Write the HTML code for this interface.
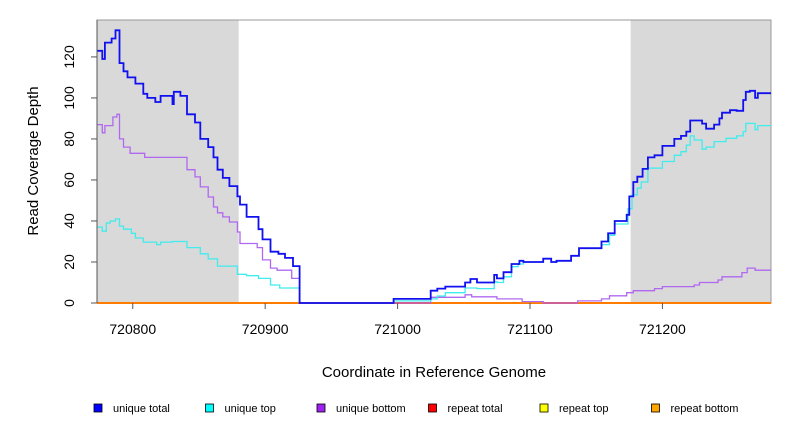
<!DOCTYPE html>
<html><head><meta charset="utf-8"><style>
body{margin:0;background:#fff;}
svg text{font-family:"Liberation Sans",sans-serif;fill:#000;}
</style></head><body>
<svg id="chart" width="792" height="432" viewBox="0 0 792 432">
<g id="plot"></g>
<text x="434" y="377" font-size="15" text-anchor="middle">Coordinate in Reference Genome</text>
<text x="38" y="161" font-size="15" text-anchor="middle" transform="rotate(-90 38 161)">Read Coverage Depth</text>
<g id="legend"></g>
</svg>
<script>
const xTicks=[720800,720900,721000,721100,721200];
const yTicks=[0,20,40,60,80,100,120];
const shadeRegions=[[720773,720880],[721176,721282]];
const seriesNames=["unique total","unique top","unique bottom","repeat total","repeat top","repeat bottom"];
const uniqueTotalX=[720773,720777,720779,720784,720787,720790,720793,720796,720802,720808,720811,720817,720821,720830,720831,720836,720841,720847,720851,720857,720861,720864,720868,720873,720879,720881,720886,720895,720898,720904,720910,720915,720921,720926,720997,721025,721030,721036,721051,721055,721060,721073,721075,721080,721086,721092,721095,721110,721116,721120,721131,721137,721154,721159,721164,721173,721175,721178,721181,721185,721189,721194,721200,721209,721214,721218,721221,721230,721233,721239,721243,721245,721251,721256,721261,721263,721266,721270,721272];
const uniqueTotalY=[123,119,127,129,133,117,113,110,107,102,100,98,101,97,103,101,92,88,80,76,71,65,61,57,52,48,42,36,31,25,24,22,18,0,2,6,7,8,10,11.7,10,13.7,12,15,19,20.6,20,21.6,20,20.6,23,26.7,30,34,40,43,52,59,61.6,65.4,71,72,76.6,80,81.5,83.6,89,87.5,85,87,90,92.8,94,93.7,99,103,103.5,100,102.3];
const uniqueTopX=[720773,720777,720780,720783,720787,720790,720793,720799,720802,720808,720818,720821,720830,720841,720851,720857,720864,720879,720886,720895,720904,720911,720926,720997,721025,721030,721036,721051,721060,721073,721075,721080,721086,721091,721095,721110,721116,721120,721131,721137,721154,721160,721164,721174,721177,721181,721184,721189,721200,721209,721214,721218,721221,721224,721230,721233,721239,721248,721256,721261,721263,721270,721272];
const uniqueTopY=[37,35,39,40,41,37.5,36,34,31.7,29.7,28.5,29.7,30,27,24,21.5,18,14,13.3,12,8.8,7.3,0,1,2,3.4,5,7.3,7,10.4,10,12.8,17.7,19,20,21.6,20,20.6,23,26.7,28.5,33,38.5,46,52.7,56,59,65.8,69,72,73.8,77,81.5,79.5,75,76,78.7,80.3,81.5,83.6,87.6,84.5,86.5];
const uniqueBottomX=[720773,720777,720779,720785,720788,720790,720793,720798,720809,720841,720847,720851,720857,720861,720864,720868,720873,720879,720881,720894,720898,720904,720909,720920,720926,721025,721051,721056,721075,721094,721110,721136,721154,721160,721173,721178,721194,721200,721224,721228,721242,721245,721260,721264,721270];
const uniqueBottomY=[87,83,86.5,90.7,92,80,76,73,71,65,61.5,56.6,51.7,46.8,44,42,39.5,34.6,29,27,21,17,16,12,0,2.8,4,3,2,0.7,0,1,2,3.5,5,6,7,8,8.8,10,11.2,12.8,14.8,17,16];
const repeatX=[720773];
const repeatY=[0];

const X0=720773,X1=721282,PL=97,PR=771,PT=20,PB=303,YMAX=138;
const sx=v=>PL+(v-X0)/(X1-X0)*(PR-PL);
const sy=v=>PB-v/YMAX*(PB-PT);
const NS="http://www.w3.org/2000/svg";
const plot=document.getElementById('plot');
function mk(tag,attrs,parent){const e=document.createElementNS(NS,tag);for(const k in attrs)e.setAttribute(k,attrs[k]);(parent||plot).appendChild(e);return e;}

shadeRegions.forEach(r=>{
  const e=mk('rect',{x:sx(r[0]),y:PT,width:sx(r[1])-sx(r[0]),height:PB-PT,fill:'#d9d9d9'});
  
  
});
const frame=mk('rect',{x:PL,y:PT,width:PR-PL,height:PB-PT,fill:'none',stroke:'#999','stroke-width':1});



function stepPath(xs,ys){
  let d='';
  for(let i=0;i<xs.length;i++){
    const xa=sx(xs[i]),xb=sx(i+1<xs.length?xs[i+1]:X1),y=sy(ys[i]);
    d+=(i===0?'M':'L')+xa.toFixed(1)+','+y.toFixed(1)+'L'+xb.toFixed(1)+','+y.toFixed(1);
  }
  return d;
}
const rt=mk('path',{d:stepPath(repeatX,repeatY),stroke:'#ff0000',fill:'none','stroke-width':2});


const rb=mk('path',{d:stepPath(repeatX,repeatY),stroke:'#ffa500',fill:'none','stroke-width':1.5});


const pb=mk('path',{d:stepPath(uniqueBottomX,uniqueBottomY),stroke:'#b068f0',fill:'none','stroke-width':1.3});


const pt=mk('path',{d:stepPath(uniqueTopX,uniqueTopY),stroke:'#40ecec',fill:'none','stroke-width':1.3});


const ptot=mk('path',{d:stepPath(uniqueTotalX,uniqueTotalY),stroke:'#1010f0',fill:'none','stroke-width':1.8});



const ax=mk('line',{x1:PL,y1:PT,x2:PL,y2:PB,stroke:'#555'});


yTicks.forEach(v=>{
  const t=mk('line',{x1:PL-6,y1:sy(v),x2:PL,y2:sy(v),stroke:'#555'});
  
  
  const l=mk('text',{x:74,y:sy(v),'font-size':14,'text-anchor':'middle',transform:'rotate(-90 74 '+sy(v)+')'});
  l.textContent=v;
  
  
});
xTicks.forEach(v=>{
  const t=mk('line',{x1:sx(v),y1:PB,x2:sx(v),y2:PB+6,stroke:'#555'});
  
  
  const l=mk('text',{x:sx(v),y:334,'font-size':14,'text-anchor':'middle'});
  l.textContent=v;
  
  
});

const legend=document.getElementById('legend');
const legendColors=['#0000ff','#00ffff','#a020f0','#ff0000','#ffff00','#ffa500'];
seriesNames.forEach((n,i)=>{
  const x=94+i*111.5;
  const r=mk('rect',{x:x,y:404,width:8,height:8,fill:legendColors[i],stroke:'#000','stroke-width':0.8},legend);
  
  
  const t=mk('text',{x:x+19,y:412,'font-size':11},legend);
  t.textContent=n;
  
  
});
</script>
</body></html>
